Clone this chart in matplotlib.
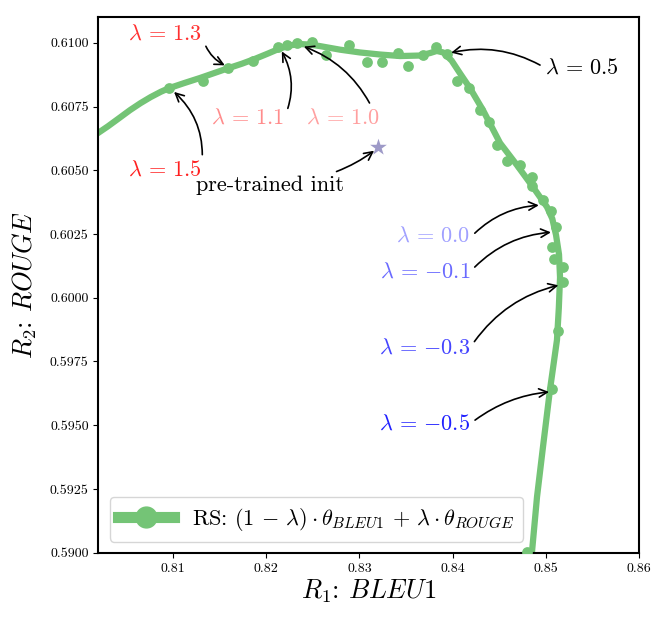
import matplotlib
matplotlib.use("Agg")
import matplotlib.pyplot as plt
from matplotlib.lines import Line2D

plt.rcParams['font.family'] = 'serif'
plt.rcParams['font.serif'] = ['cmr10', 'DejaVu Serif']
plt.rcParams['mathtext.fontset'] = 'cm'
plt.rcParams['axes.formatter.use_mathtext'] = True

# scattered evaluation points (BLEU1, ROUGE)
pts_x = [0.8096, 0.8132, 0.8159, 0.8186, 0.8213, 0.8222, 0.8233, 0.8249, 0.8264,
         0.8289, 0.8308, 0.8324, 0.8341, 0.8352, 0.8368, 0.8382, 0.8394, 0.8405,
         0.8418, 0.8429, 0.8439, 0.8448, 0.8458, 0.8472, 0.8485, 0.8485, 0.8497,
         0.8506, 0.8511, 0.8507, 0.8509, 0.8518, 0.8518, 0.8513, 0.8507, 0.8480]
pts_y = [0.60822, 0.60850, 0.60901, 0.60928, 0.60983, 0.60991, 0.60999, 0.61003, 0.60952,
         0.60991, 0.60924, 0.60924, 0.60960, 0.60909, 0.60952, 0.60983, 0.60956, 0.60850,
         0.60822, 0.60736, 0.60689, 0.60599, 0.60536, 0.60521, 0.60474, 0.60438, 0.60383,
         0.60340, 0.60277, 0.60199, 0.60152, 0.60121, 0.60062, 0.59870, 0.59642, 0.59003]

# smoothed front
line_x = [0.80109, 0.80195, 0.80300, 0.80420, 0.80539, 0.80650, 0.80760, 0.80870, 0.80957,
          0.81120, 0.81290, 0.81440, 0.81590, 0.81740, 0.81880, 0.82020,
          0.82148, 0.82260, 0.82363, 0.82470, 0.82577, 0.82792, 0.83007, 0.83221, 0.83436,
          0.83650, 0.83760, 0.83830, 0.83900, 0.83990, 0.84080, 0.84187, 0.84326, 0.84509,
          0.84691, 0.84863, 0.85013, 0.85070, 0.85110, 0.85142, 0.85153, 0.85140, 0.85120,
          0.85045, 0.84970, 0.84906, 0.84852, 0.84809]
line_y = [0.60626, 0.60646, 0.60672, 0.60704, 0.60736, 0.60763, 0.60787, 0.60808, 0.60822,
          0.60842, 0.60862, 0.60881, 0.60900, 0.60918, 0.60937, 0.60958,
          0.60978, 0.60990, 0.60995, 0.60993, 0.60987, 0.60973, 0.60962, 0.60954, 0.60948,
          0.60950, 0.60960, 0.60968, 0.60962, 0.60930, 0.60880, 0.60822, 0.60736, 0.60607,
          0.60520, 0.60434, 0.60356, 0.60310, 0.60246, 0.60170, 0.60080, 0.59960, 0.59834,
          0.59639, 0.59415, 0.59219, 0.59003, 0.58854]

init_x, init_y = 0.8320, 0.6059

# annotations: label, text pos, target, color
ann_labels = [r'$\lambda\,=\,1.3$', r'$\lambda\,=\,1.5$', r'$\lambda\,=\,1.1$', r'$\lambda\,=\,1.0$',
              r'$\lambda\,=\,0.5$', 'pre-trained init', r'$\lambda\,=\,0.0$', r'$\lambda\,=\,{-}0.1$',
              r'$\lambda\,=\,{-}0.3$', r'$\lambda\,=\,{-}0.5$']
ann_text_x = [0.80914, 0.80914, 0.8180, 0.8282, 0.8539, 0.8204, 0.84187, 0.84187, 0.84187, 0.84187]
ann_text_y = [0.61034, 0.60501, 0.60705, 0.60705, 0.60901, 0.60442, 0.60242, 0.60101, 0.59803, 0.59505]
ann_tgt_x = [0.81569, 0.8100, 0.8216, 0.8239, 0.8397, 0.8317, 0.8494, 0.8507, 0.8515, 0.8505]
ann_tgt_y = [0.60909, 0.60811, 0.60971, 0.60987, 0.6096, 0.6058, 0.60363, 0.60257, 0.60050, 0.59631]
ann_colors = ['#ff3030', '#ff2020', '#ff8c8c', '#ffa0a0', 'black', 'black',
              '#a0a0ff', '#6a6aff', '#4444ff', '#2020ff']
ann_ha = ['center', 'center', 'center', 'center', 'center', 'center', 'right', 'right', 'right', 'right']
ann_relpos = [(1, 0.5), (1, 0.8), (1, 0.5), (0.9, 1.0), (0, 0.5), (0.83, 0.9),
              (1, 0.4), (1, 0.5), (1, 0.5), (1, 0.5)]
ann_rad = [0.25, 0.25, 0.25, 0.2, 0.2, 0.1, -0.2, -0.2, -0.2, -0.15]

green = '#74c476'

fig = plt.figure(figsize=(6.64, 6.22), dpi=100)
ax = fig.add_axes([0.1483, 0.1114, 0.8140, 0.8608])

ax.plot(line_x, line_y, color=green, lw=4.5, solid_capstyle='butt',
        solid_joinstyle='round', zorder=2)
ax.scatter(pts_x, pts_y, s=60, color=green, zorder=3, linewidths=0)
ax.scatter([init_x], [init_y], marker='*', s=160, color='#9e9ac8', zorder=4, linewidths=0)

for lab, tx, ty, gx, gy, c, ha, rp, rad in zip(ann_labels, ann_text_x, ann_text_y,
                                               ann_tgt_x, ann_tgt_y, ann_colors,
                                               ann_ha, ann_relpos, ann_rad):
    ax.annotate(lab, xy=(gx, gy), xytext=(tx, ty), color=c, fontsize=16,
                ha=ha, va='center', zorder=5,
                arrowprops=dict(arrowstyle='->', color='black', lw=1.2,
                                relpos=rp, shrinkA=2, shrinkB=1,
                                connectionstyle=f'arc3,rad={rad}', mutation_scale=15))

ax.set_xlim(0.802, 0.86)
ax.set_ylim(0.59, 0.611)
ax.set_xticks([0.81, 0.82, 0.83, 0.84, 0.85, 0.86])
ax.set_xticklabels(['0.81', '0.82', '0.83', '0.84', '0.85', '0.86'])
ax.set_yticks([0.59, 0.5925, 0.595, 0.5975, 0.60, 0.6025, 0.605, 0.6075, 0.61])
ax.set_yticklabels(['0.5900', '0.5925', '0.5950', '0.5975', '0.6000', '0.6025',
                    '0.6050', '0.6075', '0.6100'])
ax.tick_params(labelsize=10)
for s in ax.spines.values():
    s.set_linewidth(1.5)

ax.set_xlabel(r'$R_1$: $BLEU1$', fontsize=19, labelpad=2)
ax.set_ylabel(r'$R_2$: $ROUGE$', fontsize=19, labelpad=8)

handle = Line2D([0], [0], color=green, lw=8, marker='o', markersize=15)
ax.legend([handle], [r'RS: $(1\,-\,\lambda)\cdot\theta_{BLEU1}\,+\,\lambda\cdot\theta_{ROUGE}$'],
          loc='lower left', fontsize=16, handlelength=2.5, borderaxespad=0.5)

fig.savefig('out.png', dpi=100)
